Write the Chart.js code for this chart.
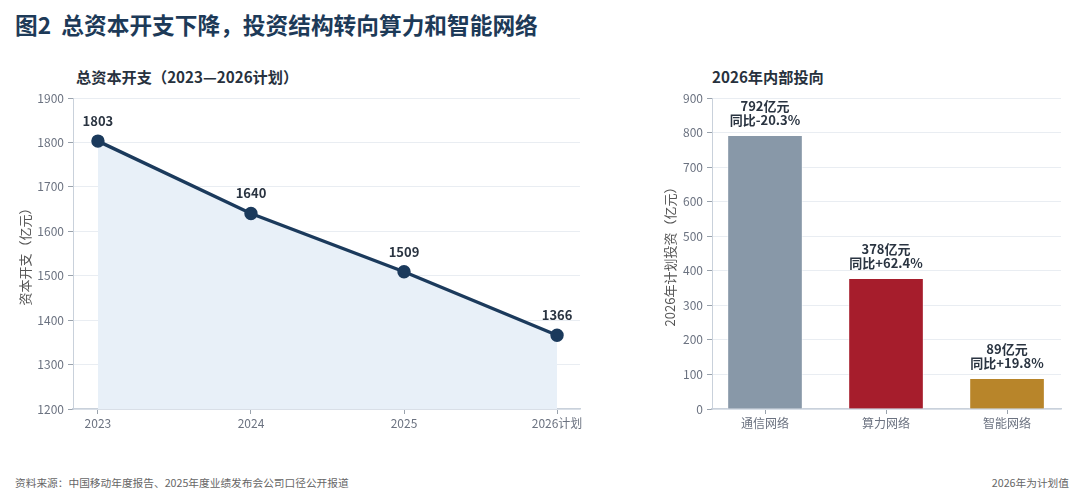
<!DOCTYPE html>
<html>
<head>
<meta charset="utf-8">
<script src="https://cdn.jsdelivr.net/npm/chart.js@4/dist/chart.umd.min.js"></script>
<style>
  body { margin: 0; width: 1080px; height: 504px; background: #fff; position: relative; overflow: hidden;
         font-family: "Noto Sans CJK SC", "Noto Sans", sans-serif; }
  .t { position: absolute; white-space: nowrap; }
  #title { left: 15px; top: 8px; font-size: 22.7px; font-weight: 700; color: #1d3a58; }
  .sub { top: 65px; font-size: 15.2px; font-weight: 700; color: #27313d; }
  .foot { top: 475px; font-size: 10.7px; color: #666; }
  .box { position: absolute; }
</style>
</head>
<body>
<div id="title" class="t">图2&nbsp;&nbsp;总资本开支下降，投资结构转向算力和智能网络</div>
<div class="t sub" style="left:76px">总资本开支（2023—2026计划）</div>
<div class="t sub" style="left:712px">2026年内部投向</div>
<div class="t foot" style="left:15px">资料来源：中国移动年度报告、2025年度业绩发布会公司口径公开报道</div>
<div class="t foot" style="right:11px">2026年为计划值</div>

<div class="box" style="left:0;top:80px;width:600px;height:380px"><canvas id="capex"></canvas></div>
<div class="box" style="left:620px;top:80px;width:460px;height:380px"><canvas id="split"></canvas></div>

<script>
// total capex, 100 million yuan
const years = ["2023", "2024", "2025", "2026计划"];
const capex = [1803, 1640, 1509, 1366];

// 2026 planned split
const segments = ["通信网络", "算力网络", "智能网络"];
const segValues = [792, 378, 89];
const segYoY = ["同比-20.3%", "同比+62.4%", "同比+19.8%"];
const segColors = ["#8898a8", "#a61d2c", "#b8852a"];

const capexTicks = [1200, 1300, 1400, 1500, 1600, 1700, 1800, 1900];
const splitTicks = [0, 100, 200, 300, 400, 500, 600, 700, 800, 900];

const FONT = '"Noto Sans CJK SC", "Noto Sans", sans-serif';
const tickColor = "#6b7280";
const gridColor = "#e9edf2";
const axisColor = "#c9d1db";

Chart.defaults.font.family = FONT;
Chart.defaults.animation = false;

// draws text lines above each point / bar
const topLabels = {
  id: "topLabels",
  afterDatasetsDraw(chart, args, opts) {
    const ctx = chart.ctx;
    const meta = chart.getDatasetMeta(0);
    ctx.save();
    ctx.font = "bold 13px " + FONT;
    ctx.fillStyle = "#2a3441";
    ctx.textAlign = "center";
    ctx.textBaseline = "middle";
    meta.data.forEach((el, i) => {
      const lines = opts.lines(i);
      lines.forEach((txt, j) => {
        const y = el.y - opts.gap - (lines.length - 1 - j) * 14.5;
        ctx.fillText(txt, el.x, y);
      });
    });
    ctx.restore();
  }
};

function yScale(ticks, width, title, titlePad) {
  return {
    min: ticks[0],
    max: ticks[ticks.length - 1],
    afterBuildTicks: s => { s.ticks = ticks.map(v => ({value: v})); },
    afterFit: s => { s.width = width; },
    ticks: {color: tickColor, font: {size: 12}, padding: 4, callback: v => String(v)},
    grid: {color: gridColor, tickColor: "#9aa3ad", tickLength: 5},
    border: {color: axisColor},
    title: {display: true, text: title, color: "#555", font: {size: 13}, padding: {top: titlePad}}
  };
}

function xScale(labels, min, max) {
  return {
    type: "linear",
    min: min,
    max: max,
    offset: false,
    afterBuildTicks: s => { s.ticks = labels.map((l, i) => ({value: i})); },
    afterFit: s => { s.height = 30; },
    ticks: {color: tickColor, font: {size: 12}, padding: 2, callback: v => labels[v]},
    grid: {drawOnChartArea: false, offset: false, tickColor: "#9aa3ad", tickLength: 5},
    border: {color: axisColor, width: 1.5}
  };
}

new Chart(document.getElementById("capex"), {
  type: "line",
  data: {
    datasets: [{
      data: capex.map((v, i) => ({x: i, y: v})),
      borderColor: "#1b3a5c",
      borderWidth: 3.4,
      backgroundColor: "#e8f0f8",
      fill: "start",
      pointRadius: 5,
      pointBackgroundColor: "#1b3a5c",
      pointBorderColor: "#1b3a5c",
      tension: 0
    }]
  },
  options: {
    responsive: true,
    maintainAspectRatio: false,
    layout: {padding: {top: 18, right: 20, left: 0, bottom: 21}},
    plugins: {
      legend: {display: false},
      tooltip: {enabled: false},
      topLabels: {gap: 20, lines: i => [String(capex[i])]}
    },
    scales: {
      x: xScale(years, -0.163, 3.15),
      y: yScale(capexTicks, 73, "资本开支（亿元）", 17)
    }
  },
  plugins: [topLabels]
});

new Chart(document.getElementById("split"), {
  type: "bar",
  data: {
    datasets: [{
      data: segValues.map((v, i) => ({x: i, y: v})),
      backgroundColor: segColors,
      borderColor: "rgba(255,255,255,0.55)",
      borderWidth: 1,
      barThickness: 75
    }]
  },
  options: {
    responsive: true,
    maintainAspectRatio: false,
    layout: {padding: {top: 18, right: 19, left: 0, bottom: 21}},
    plugins: {
      legend: {display: false},
      tooltip: {enabled: false},
      topLabels: {gap: 15, lines: i => [segValues[i] + "亿元", segYoY[i]]}
    },
    scales: {
      x: xScale(segments, -0.438, 2.446),
      y: yScale(splitTicks, 92, "2026年计划投资（亿元）", 42)
    }
  },
  plugins: [topLabels]
});
</script>
</body>
</html>
